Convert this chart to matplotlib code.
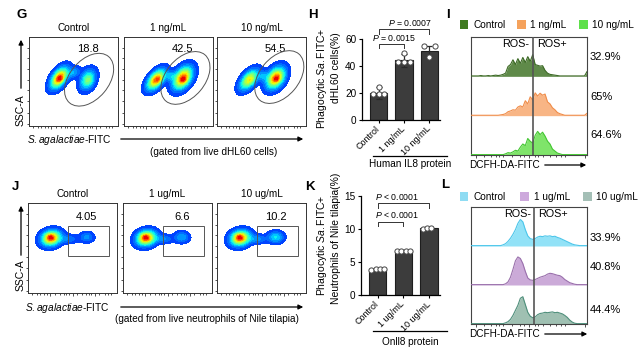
import numpy as np
import matplotlib
matplotlib.use("Agg")
import matplotlib.pyplot as plt
from matplotlib.colors import ListedColormap, PowerNorm
from matplotlib.patches import Ellipse, Rectangle, FancyArrowPatch
from matplotlib.lines import Line2D

plt.rcParams["font.family"] = ["Liberation Sans", "DejaVu Sans"]
plt.rcParams["mathtext.fontset"] = "custom"
plt.rcParams["mathtext.rm"] = "Liberation Sans"
plt.rcParams["mathtext.it"] = "Liberation Sans:italic"
plt.rcParams["font.size"] = 7.2

W, H = 639, 353

# ---------------- data ----------------
# flow cytometry (G): concentrations, gate percentages, cell populations
g_titles = ["Control", "1 ng/mL", "10 ng/mL"]
g_percent = ["18.8", "42.5", "54.5"]
# population: (x, y, major sd, minor sd, angle deg, weight) in gate-plot units
g_populations = [
    [(0.34, 0.54, 0.085, 0.045, 55, 1.0), (0.35, 0.53, 0.030, 0.022, 45, 0.22),
     (0.66, 0.52, 0.075, 0.050, 65, 0.55), (0.67, 0.51, 0.030, 0.025, 45, 0.08),
     (0.50, 0.60, 0.050, 0.035, 30, 0.25)],
    [(0.36, 0.52, 0.085, 0.045, 50, 0.95), (0.39, 0.52, 0.028, 0.022, 45, 0.18),
     (0.66, 0.54, 0.090, 0.055, 55, 1.0), (0.67, 0.52, 0.028, 0.022, 45, 0.22),
     (0.52, 0.56, 0.040, 0.035, 30, 0.25)],
    [(0.36, 0.52, 0.085, 0.045, 50, 0.80), (0.39, 0.52, 0.028, 0.022, 45, 0.08),
     (0.66, 0.54, 0.085, 0.055, 55, 1.0), (0.67, 0.53, 0.028, 0.022, 45, 0.25),
     (0.52, 0.56, 0.040, 0.035, 30, 0.25)],
]

# flow cytometry (J)
j_titles = ["Control", "1 ug/mL", "10 ug/mL"]
j_percent = ["4.05", "6.6", "10.2"]
j_populations = [
    [(0.26, 0.61, 0.070, 0.052, 15, 1.0), (0.25, 0.62, 0.028, 0.022, 0, 0.22),
     (0.45, 0.60, 0.070, 0.030, 0, 0.18), (0.66, 0.62, 0.050, 0.036, 0, 0.22)],
    [(0.26, 0.61, 0.070, 0.052, 15, 1.0), (0.25, 0.62, 0.028, 0.022, 0, 0.22),
     (0.45, 0.60, 0.070, 0.030, 0, 0.20), (0.66, 0.62, 0.052, 0.038, 0, 0.27)],
    [(0.26, 0.61, 0.070, 0.052, 15, 1.0), (0.25, 0.62, 0.028, 0.022, 0, 0.22),
     (0.45, 0.60, 0.070, 0.030, 0, 0.22), (0.66, 0.62, 0.055, 0.040, 0, 0.36)],
]

# bar chart (H)
h_groups = ["Control", "1 ng/mL", "10 ng/mL"]
h_means = [20.3, 44.2, 50.8]
h_sd = [4.4, 5.0, 4.3]
h_points = [[19.0, 19.0, 19.0, 24.7], [42.8, 42.8, 42.8, 49.4], [54.5, 47.0, 55.0]]
h_pvalues = ["$\\it{P}$ = 0.0015", "$\\it{P}$ = 0.0007"]

# bar chart (K)
k_groups = ["Control", "1 ug/mL", "10 ug/mL"]
k_means = [3.9, 6.65, 10.1]
k_sd = [0.1, 0.08, 0.12]
k_points = [[3.85, 3.95, 4.0, 4.0], [6.6, 6.65, 6.7, 6.7], [10.0, 10.15, 10.2]]
k_pvalues = ["$\\it{P}$ < 0.0001", "$\\it{P}$ < 0.0001"]

# ROS histograms (I), 48 bins across the DCFH-DA-FITC axis, height per row
i_labels = ["Control", "1 ng/mL", "10 ng/mL"]
i_percent = ["32.9%", "65%", "64.6%"]
i_hist = [
    [0.01, 0.01, 0.01, 0.01, 0.02, 0.01, 0.01, 0.02, 0.01, 0.02,
     0.03, 0.02, 0.03, 0.05, 0.08, 0.25, 0.30, 0.42, 0.30, 0.45,
     0.33, 0.48, 0.35, 0.50, 0.38, 0.55, 0.30, 0.28, 0.26, 0.27,
     0.15, 0.08, 0.05, 0.04, 0.03, 0.02, 0.01, 0.01, 0.01, 0.01,
     0.01, 0.01, 0.01, 0.01, 0.01, 0.01, 0.01, 0.12],
    [0.01, 0.01, 0.01, 0.01, 0.01, 0.01, 0.01, 0.01, 0.01, 0.01,
     0.01, 0.01, 0.02, 0.03, 0.05, 0.10, 0.12, 0.15, 0.14, 0.22,
     0.25, 0.22, 0.38, 0.30, 0.48, 0.40, 0.58, 0.50, 0.57, 0.52,
     0.55, 0.35, 0.30, 0.20, 0.15, 0.08, 0.05, 0.03, 0.01, 0.01,
     0.01, 0.01, 0.01, 0.01, 0.01, 0.01, 0.01, 0.06],
    [0.01, 0.01, 0.01, 0.01, 0.01, 0.01, 0.01, 0.01, 0.01, 0.01,
     0.01, 0.01, 0.01, 0.01, 0.03, 0.06, 0.05, 0.08, 0.12, 0.10,
     0.20, 0.28, 0.24, 0.42, 0.35, 0.30, 0.50, 0.60, 0.52, 0.58,
     0.48, 0.35, 0.28, 0.15, 0.10, 0.05, 0.03, 0.01, 0.01, 0.01,
     0.01, 0.01, 0.01, 0.01, 0.01, 0.01, 0.01, 0.01],
]

# ROS histograms (L)
l_labels = ["Control", "1 ug/mL", "10 ug/mL"]
l_percent = ["33.9%", "40.8%", "44.4%"]
l_hist = [
    [0.01, 0.01, 0.01, 0.01, 0.01, 0.01, 0.01, 0.01, 0.01, 0.01,
     0.01, 0.01, 0.01, 0.03, 0.06, 0.12, 0.20, 0.30, 0.42, 0.58,
     0.68, 0.62, 0.42, 0.26, 0.19, 0.17, 0.19, 0.23, 0.25, 0.24,
     0.26, 0.25, 0.26, 0.24, 0.25, 0.22, 0.20, 0.17, 0.14, 0.11,
     0.08, 0.05, 0.03, 0.02, 0.01, 0.01, 0.01, 0.01],
    [0.01, 0.01, 0.01, 0.01, 0.01, 0.01, 0.01, 0.01, 0.01, 0.01,
     0.01, 0.01, 0.01, 0.01, 0.03, 0.08, 0.20, 0.40, 0.62, 0.72,
     0.68, 0.55, 0.35, 0.18, 0.13, 0.12, 0.14, 0.17, 0.20, 0.22,
     0.24, 0.28, 0.30, 0.29, 0.27, 0.25, 0.24, 0.20, 0.14, 0.10,
     0.06, 0.04, 0.02, 0.01, 0.01, 0.01, 0.01, 0.01],
    [0.01, 0.01, 0.01, 0.01, 0.01, 0.01, 0.01, 0.01, 0.01, 0.01,
     0.01, 0.01, 0.01, 0.01, 0.03, 0.06, 0.12, 0.22, 0.35, 0.48,
     0.66, 0.70, 0.50, 0.30, 0.20, 0.16, 0.18, 0.24, 0.27, 0.28,
     0.30, 0.29, 0.30, 0.31, 0.29, 0.30, 0.28, 0.26, 0.22, 0.17,
     0.10, 0.05, 0.02, 0.01, 0.01, 0.01, 0.01, 0.01],
]

i_fill = ["#5f8a49", "#f8b585", "#7fe46a"]
i_edge = ["#3d6a26", "#f08d4a", "#44c632"]
i_legend = ["#3f7a20", "#f5a25c", "#5ee04a"]
l_fill = ["#92e2f7", "#cbaad8", "#9fc0b2"]
l_edge = ["#4cc6ea", "#9a70ac", "#4f8f7b"]
l_legend = ["#8fdcf3", "#cda9dc", "#a4bfb6"]

# ---------------- helpers ----------------
fig = plt.figure(figsize=(W / 100, H / 100), dpi=100)


def add_ax(x0, y0, x1, y1):
    return fig.add_axes([x0 / W, 1 - y1 / H, (x1 - x0) / W, (y1 - y0) / H])


def ftext(x, y, s, **kw):
    return fig.text(x / W, 1 - y / H, s, **kw)


def farrow(x0, y0, x1, y1):
    fig.add_artist(FancyArrowPatch((x0 / W, 1 - y0 / H), (x1 / W, 1 - y1 / H),
                                   transform=fig.transFigure, arrowstyle="-|>",
                                   mutation_scale=7, lw=0.9, color="black"))


def fline(x0, y0, x1, y1):
    fig.add_artist(Line2D([x0 / W, x1 / W], [1 - y0 / H, 1 - y1 / H],
                          transform=fig.transFigure, color="black", lw=0.9))


gx, gy = np.meshgrid(np.linspace(0, 1, 220), np.linspace(0, 1, 220))


def density(pops):
    z = np.zeros_like(gx)
    for cx, cy, a, b, ang, w in pops:
        t = np.deg2rad(ang)
        u = (gx - cx) * np.cos(t) + (gy - cy) * np.sin(t)
        v = -(gx - cx) * np.sin(t) + (gy - cy) * np.cos(t)
        z += w * np.exp(-0.5 * ((u / a) ** 2 + (v / b) ** 2))
    return z / z.max()


flow_cmap = ListedColormap(plt.cm.jet(np.linspace(0.18, 0.92, 256)))
flow_levels = np.linspace(0.03, 1.01, 16)
flow_norm = PowerNorm(gamma=1.15, vmin=0.03, vmax=1.0)


def flow_panel(box, title, pct, pops, gate, pct_y):
    ax = add_ax(*box)
    ax.contourf(gx, gy, density(pops), levels=flow_levels, cmap=flow_cmap, norm=flow_norm)
    ax.add_patch(gate)
    ax.set_xlim(0, 1)
    ax.set_ylim(0, 1)
    ax.set_xticks([0.25, 0.5, 0.75])
    ax.set_xticks([0.05, 0.1, 0.14, 0.18, 0.21, 0.3, 0.36, 0.4, 0.43, 0.46,
                   0.55, 0.61, 0.65, 0.68, 0.71, 0.8, 0.86, 0.9, 0.93], minor=True)
    ax.set_yticks([0.02, 0.28, 0.52, 0.76])
    ax.set_yticks([0.15, 0.4, 0.64, 0.88], minor=True)
    ax.tick_params(which="both", labelleft=False, labelbottom=False, length=1.8,
                   width=0.6, direction="out", color="#333333")
    ax.tick_params(which="minor", length=1.1)
    for s in ax.spines.values():
        s.set_linewidth(0.7)
        s.set_color("#333333")
    ax.text(0.5, 1.1, title, transform=ax.transAxes, ha="center", va="center", fontsize=7.2)
    ax.text(0.66, pct_y, pct, transform=ax.transAxes, ha="center", va="center", fontsize=8)
    return ax


def bar_panel(box, groups, means, sd, points, ymax, yticks, jitter, brackets, pvals):
    ax = add_ax(*box)
    x = np.arange(len(groups))
    ax.bar(x, means, width=0.68, color="#3c3c3c", edgecolor="#1e1e1e", lw=0.8, zorder=2)
    ax.errorbar(x, means, yerr=sd, fmt="none", ecolor="#2a2a2a", elinewidth=0.9,
                capsize=2.5, capthick=0.9, zorder=3)
    for xi, pts in zip(x, points):
        ax.scatter(xi + np.array(jitter[:len(pts)]), pts, s=14, facecolor="white",
                   edgecolor="#444444", lw=0.7, zorder=4, clip_on=False)
    ax.set_xlim(-0.65, 2.42)
    ax.set_ylim(0, ymax)
    ax.set_yticks(yticks)
    ax.set_xticks(x)
    ax.set_xticklabels(groups, rotation=45, ha="right", va="center",
                       rotation_mode="anchor")
    ax.tick_params(length=2.5, width=0.8, pad=1.5, labelsize=7.2)
    ax.tick_params(axis="x", pad=3, labelsize=6.5)
    for s in ["top", "right"]:
        ax.spines[s].set_visible(False)
    for s in ["left", "bottom"]:
        ax.spines[s].set_linewidth(0.9)
    for (x1, x2, top, leg, tx), p in zip(brackets, pvals):
        ax.plot([x1, x1, x2, x2], [top - leg, top, top, top - leg], color="#333333",
                lw=0.7, clip_on=False)
        ax.text(tx, top + leg * 0.3, p, ha="left", va="bottom", fontsize=6.3)
    return ax


def hist_panel(box, hists, fills, edges, gate, ros_y):
    ax = add_ax(*box)
    n = len(hists[0])
    xc = (np.arange(n) + 0.5) / n
    for k, (h, fc, ec) in enumerate(zip(hists, fills, edges)):
        base = len(hists) - 1 - k
        ax.fill_between(xc, base, base + np.array(h), color=fc, lw=0, zorder=2)
        ax.plot(xc, base + np.array(h), color=ec, lw=0.8, zorder=3)
    ax.axvline(gate, color="#555555", lw=1.2, zorder=4)
    ax.set_xlim(xc[0], xc[-1])
    ax.set_ylim(0, len(hists))
    ax.set_yticks([])
    ax.set_xticks([0.05, 0.5, 0.97])
    ax.set_xticks([0.12, 0.18, 0.22, 0.25, 0.28, 0.36, 0.42, 0.46, 0.55, 0.58,
                   0.62, 0.68, 0.73, 0.77, 0.8], minor=True)
    ax.tick_params(which="both", labelbottom=False, length=2, width=0.6, color="#333333")
    ax.tick_params(which="minor", length=1.2)
    for s in ax.spines.values():
        s.set_linewidth(0.8)
        s.set_color("#444444")
    ax.text(gate - 0.025, ros_y, "ROS-", ha="right", va="center", fontsize=7.8, zorder=5)
    ax.text(gate + 0.035, ros_y, "ROS+", ha="left", va="center", fontsize=7.8, zorder=5)
    return ax


def legend_row(y, xs, colors, labels):
    for x, c, lab in zip(xs, colors, labels):
        fig.add_artist(Rectangle((x / W, 1 - (y + 4) / H), 8.5 / W, 8.5 / H,
                                 transform=fig.transFigure, color=c, lw=0))
        ftext(x + 13.5, y, lab, ha="left", va="center", fontsize=7.2)


# ---------------- panel G ----------------
ftext(22, 15, "G", fontsize=9.5, fontweight="bold", ha="center", va="center")
g_boxes = [(29, 37, 118, 126), (124, 37, 213, 126), (217, 37, 306, 126)]
g_ellipse_centers = [(0.675, 0.52), (0.69, 0.54), (0.70, 0.55)]
for box, t, p, pops, c in zip(g_boxes, g_titles, g_percent, g_populations, g_ellipse_centers):
    gate = Ellipse(c, 0.68, 0.44, angle=50, fill=False, lw=0.7, ec="#555555", zorder=5)
    flow_panel(box, t, p, pops, gate, 0.865)
farrow(21, 91, 21, 37)
ftext(21, 110, "SSC-A", rotation=90, ha="center", va="center", fontsize=7.5)
ftext(27, 140, "$\\it{S.agalactiae}$-FITC", ha="left", va="center", fontsize=7.3)
farrow(118, 139, 306, 139)
ftext(214, 152, "(gated from live dHL60 cells)", ha="center", va="center", fontsize=7.2)

# ---------------- panel J ----------------
ftext(15, 187, "J", fontsize=9.5, fontweight="bold", ha="center", va="center")
j_boxes = [(28, 203, 117, 293), (123, 203, 212, 293), (217, 203, 306, 293)]
for box, t, p, pops in zip(j_boxes, j_titles, j_percent, j_populations):
    gate = Rectangle((0.45, 0.41), 0.46, 0.34, fill=False, lw=0.7, ec="#555555", zorder=5)
    flow_panel(box, t, p, pops, gate, 0.84)
farrow(21, 258, 21, 203)
ftext(21, 275, "SSC-A", rotation=90, ha="center", va="center", fontsize=7.5)
ftext(25, 308, "$\\it{S.agalactiae}$-FITC", ha="left", va="center", fontsize=7.3)
farrow(118, 307, 306, 307)
ftext(207, 319, "(gated from live neutrophils of Nile tilapia)", ha="center",
      va="center", fontsize=7.2)

# ---------------- panel H ----------------
ftext(313, 15, "H", fontsize=9.5, fontweight="bold", ha="center", va="center")
bar_panel((362, 39, 440, 120), h_groups, h_means, h_sd, h_points, 60, [0, 20, 40, 60],
          [-0.22, 0.0, 0.22, 0.0],
          [(0, 1, 56.3, 3.3, -0.25), (0, 2, 67.2, 3.5, 0.38)], h_pvalues)
ftext(322, 78, "Phagocytic $\\it{Sa.}$FITC+", rotation=90, ha="center", va="center", fontsize=7.5)
ftext(336, 68, "dHL60 cells(%)", rotation=90, ha="center", va="center", fontsize=7.5)
fline(373, 156, 447, 156)
ftext(410, 164, "Human IL8 protein", ha="center", va="center", fontsize=7.2)

# ---------------- panel K ----------------
ftext(310, 187, "K", fontsize=9.5, fontweight="bold", ha="center", va="center")
bar_panel((361, 196, 440, 295), k_groups, k_means, k_sd, k_points, 15, [0, 5, 10, 15],
          [-0.25, -0.08, 0.08, 0.25],
          [(0, 1, 11.1, 0.65, -0.12), (0, 2, 13.9, 0.7, -0.12)], k_pvalues)
ftext(322, 245, "Phagocytic $\\it{Sa.}$FITC+", rotation=90, ha="center", va="center", fontsize=7.5)
ftext(336, 238, "Neutrophils of Nile tilapia(%)", rotation=90, ha="center", va="center",
      fontsize=7.5)
fline(373, 331, 447, 331)
ftext(410, 342, "Onll8 protein", ha="center", va="center", fontsize=7.2)

# ---------------- panel I ----------------
ftext(448, 15, "I", fontsize=9.5, fontweight="bold", ha="center", va="center")
legend_row(25, [460, 517, 579], i_legend, i_labels)
hist_panel((471, 37, 587, 155), i_hist, i_fill, i_edge, 0.53, 2.82)
for y, p in zip([57, 97, 135], i_percent):
    ftext(590, y, p, ha="left", va="center", fontsize=8)
ftext(469, 165, "DCFH-DA-FITC", ha="left", va="center", fontsize=7.2)
farrow(542, 165, 589, 165)

# ---------------- panel L ----------------
ftext(445, 185, "L", fontsize=9.5, fontweight="bold", ha="center", va="center")
legend_row(197, [460, 520, 583], l_legend, l_labels)
hist_panel((471, 207, 587, 324), l_hist, l_fill, l_edge, 0.543, 2.82)
for y, p in zip([238, 267, 310], l_percent):
    ftext(590, y, p, ha="left", va="center", fontsize=8)
ftext(469, 334, "DCFH-DA-FITC", ha="left", va="center", fontsize=7.2)
farrow(542, 334, 590, 334)

fig.savefig("out.png", dpi=100)
